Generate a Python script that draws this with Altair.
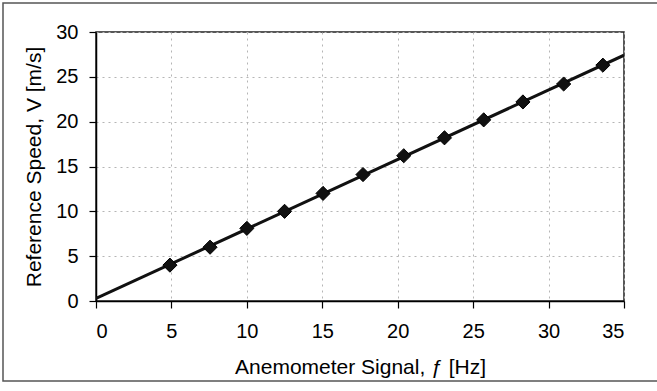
import altair as alt
import pandas as pd

# Data
freq_hz = [4.9, 7.56, 10.0, 12.5, 15.05, 17.7, 20.4, 23.1, 25.7, 28.3, 31.0, 33.6]
speed_ms = [4.0, 6.0, 8.1, 10.0, 12.0, 14.1, 16.2, 18.2, 20.2, 22.2, 24.2, 26.3]
x_ticks = [0, 5, 10, 15, 20, 25, 30, 35]
y_ticks = [0, 5, 10, 15, 20, 25, 30]

df = pd.DataFrame({"f": freq_hz, "V": speed_ms})

FONT = "Liberation Sans"

x_enc = alt.X(
    "f:Q",
    scale=alt.Scale(domain=[0, 35], nice=False),
    axis=alt.Axis(
        values=x_ticks,
        title="Anemometer Signal, ƒ [Hz]",
        grid=True,
        gridColor="#b5b5b5",
        gridDash=[2, 4],
        gridWidth=1,
        tickSize=7,
        labelPadding=13,
        titlePadding=15,
    ),
)
y_enc = alt.Y(
    "V:Q",
    scale=alt.Scale(domain=[0, 30], nice=False),
    axis=alt.Axis(
        values=y_ticks,
        title="Reference Speed, V [m/s]",
        grid=True,
        gridColor="#b5b5b5",
        gridDash=[2, 4],
        gridWidth=1,
        tickSize=7,
        labelPadding=11,
        titlePadding=11,
    ),
)

base = alt.Chart(df)

points = base.mark_point(
    shape="diamond", filled=True, size=200, color="#111111",
    stroke="#000000", strokeWidth=1, opacity=1
).encode(x=x_enc, y=y_enc)

fit = base.transform_regression("f", "V", extent=[0, 35]).mark_line(
    color="#111111", strokeWidth=3, clip=True
).encode(x=alt.X("f:Q"), y=alt.Y("V:Q"))

# outer chart-area frame (decoration)
frame = alt.Chart(pd.DataFrame({"k": [0]})).mark_rect(
    filled=False, stroke="#555555", strokeWidth=1.5
).encode(
    x=alt.value(-93), x2=alt.value(570), y=alt.value(-29), y2=alt.value(349)
)

chart = alt.layer(fit, points, frame).properties(
    width=528,
    height=269,
    autosize=alt.AutoSizeParams(type="none"),
    padding={"left": 96, "top": 32, "right": 33, "bottom": 90},
    background="white",
).configure_view(
    stroke="#222222", strokeWidth=1.5
).configure_axis(
    labelFont=FONT,
    titleFont=FONT,
    labelFontSize=20,
    titleFontSize=21,
    titleFontWeight="normal",
    labelColor="#000000",
    titleColor="#000000",
    domainColor="#000000",
    domainWidth=1.5,
    tickColor="#000000",
    tickWidth=1.2,
)

chart.save("out.html", embed_options={"renderer": "svg", "actions": False})
